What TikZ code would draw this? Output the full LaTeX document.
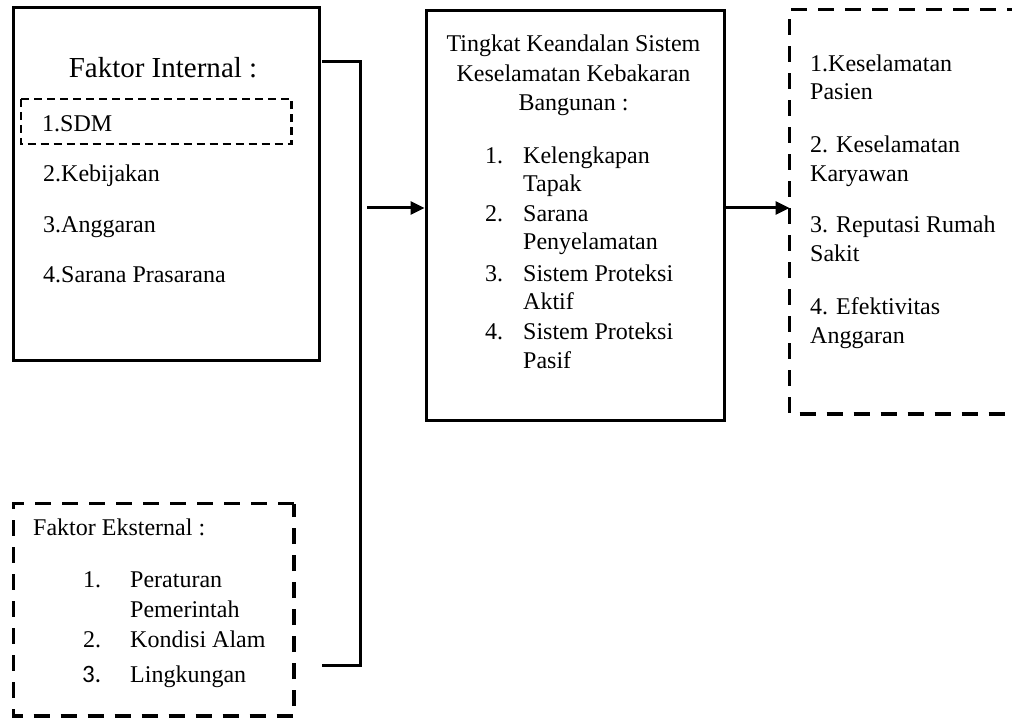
\documentclass[tikz,border=0pt]{standalone}
\usepackage{fontspec}
\setmainfont{Liberation Serif}
\newfontfamily\calfont{Carlito}
\usetikzlibrary{arrows.meta}
\begin{document}
\begin{tikzpicture}[x=1pt,y=-1pt,
  solidbox/.style={draw=black,line width=3pt,rectangle,inner sep=0pt,anchor=north west},
  bigdash/.style={draw=black,line width=3.4pt,dash pattern=on 16pt off 11pt},
  smalldash/.style={draw=black,line width=2.2pt,dash pattern=on 8pt off 5pt},
  txt/.style={inner sep=0pt,anchor=base west,font=\fontsize{24}{29}\selectfont},
  ctxt/.style={inner sep=0pt,anchor=base,font=\fontsize{24}{29}\selectfont},
  title/.style={inner sep=0pt,anchor=base,font=\fontsize{29}{34}\selectfont},
  conn/.style={draw=black,line width=3pt},
  arr/.style={draw=black,line width=3pt,-{Triangle[length=14pt,width=13pt]}}]
\useasboundingbox (0,0) rectangle (1012,719);
\clip (0,0) rectangle (1012,719);
\fill[white] (0,0) rectangle (1012,719);

% Internal box
\node[solidbox,minimum width=306pt,minimum height=352pt] (int) at (11.5,6.5) {};
\node[title] (intT) at (163,78) {Faktor Internal :};
\node[draw=none,rectangle,inner sep=0pt,anchor=north west,minimum width=270pt,minimum height=45pt] (sdmbox) at (21,99) {};
\draw[smalldash] (sdmbox.north west) rectangle (sdmbox.south east);
\node[txt] (i1) at (42,132) {1.SDM};
\node[txt] (i2) at (43,182) {2.Kebijakan};
\node[txt] (i3) at (43,233) {3.Anggaran};
\node[txt] (i4) at (43,283) {4.Sarana Prasarana};

% External box
\node[draw=none,rectangle,inner sep=0pt,anchor=north west,minimum width=280pt,minimum height=212pt] (ext) at (13.5,503.5) {};
\draw[bigdash] (ext.north east) -- (ext.north west) -- (ext.south west) -- (ext.south east) -- cycle;
\node[txt] (eT) at (33,535) {Faktor Eksternal :};
\node[txt] (e1n) at (83,587) {1.};
\node[txt] (e1) at (130,587) {Peraturan};
\node[txt] (e1b) at (130,617) {Pemerintah};
\node[txt] (e2n) at (83,647) {2.};
\node[txt] (e2) at (130,647) {Kondisi Alam};
\node[inner sep=0pt,anchor=base west,font=\calfont\fontsize{25}{30}\selectfont] (e3n) at (82,682) {3.};
\node[txt] (e3) at (130,682) {Lingkungan};

% Bracket
\coordinate (b1) at (322,62);
\coordinate (b2) at (360,62);
\coordinate (b3) at (360,665);
\coordinate (b4) at (322,665);
\draw[conn,line join=miter] (b1) -- (b2) -- (b3) -- (b4);
\coordinate (a0) at (367,208);

% Central box
\node[solidbox,minimum width=298pt,minimum height=409pt] (cen) at (424.5,9.5) {};
\node[ctxt] (c1) at (573.5,52) {Tingkat Keandalan Sistem};
\node[ctxt] (c2) at (573.5,82) {Keselamatan Kebakaran};
\node[ctxt] (c3) at (573.5,111) {Bangunan :};
\node[txt] (c4n) at (485,164) {1.};
\node[txt] (c4) at (523,164) {Kelengkapan};
\node[txt] (c5) at (523,192) {Tapak};
\node[txt] (c6n) at (485,222) {2.};
\node[txt] (c6) at (523,222) {Sarana};
\node[txt] (c7) at (523,250) {Penyelamatan};
\node[txt] (c8n) at (485,282) {3.};
\node[txt] (c8) at (523,282) {Sistem Proteksi};
\node[txt] (c9) at (523,310) {Aktif};
\node[txt] (c10n) at (485,340) {4.};
\node[txt] (c10) at (523,340) {Sistem Proteksi};
\node[txt] (c11) at (523,368) {Pasif};

% Right box
\node[draw=none,rectangle,inner sep=0pt,anchor=north west,minimum width=260pt,minimum height=404pt] (res) at (789.5,9.5) {};
\draw[bigdash] (res.north east) -- (res.north west) -- (res.south west) -- (res.south east);
\node[txt] (r1) at (810,72) {1.Keselamatan};
\node[txt] (r1b) at (810,100) {Pasien};
\node[txt] (r2) at (810,153) {2. Keselamatan};
\node[txt] (r2b) at (810,182) {Karyawan};
\node[txt] (r3) at (810,233) {3. Reputasi Rumah};
\node[txt] (r3b) at (810,262) {Sakit};
\node[txt] (r4) at (810,315) {4. Efektivitas};
\node[txt] (r4b) at (810,343) {Anggaran};

% Arrows
\draw[arr] (a0) -- (a0 -| cen.west);
\draw[arr] (cen.east |- a0) -- (a0 -| res.west);
\end{tikzpicture}
\end{document}
